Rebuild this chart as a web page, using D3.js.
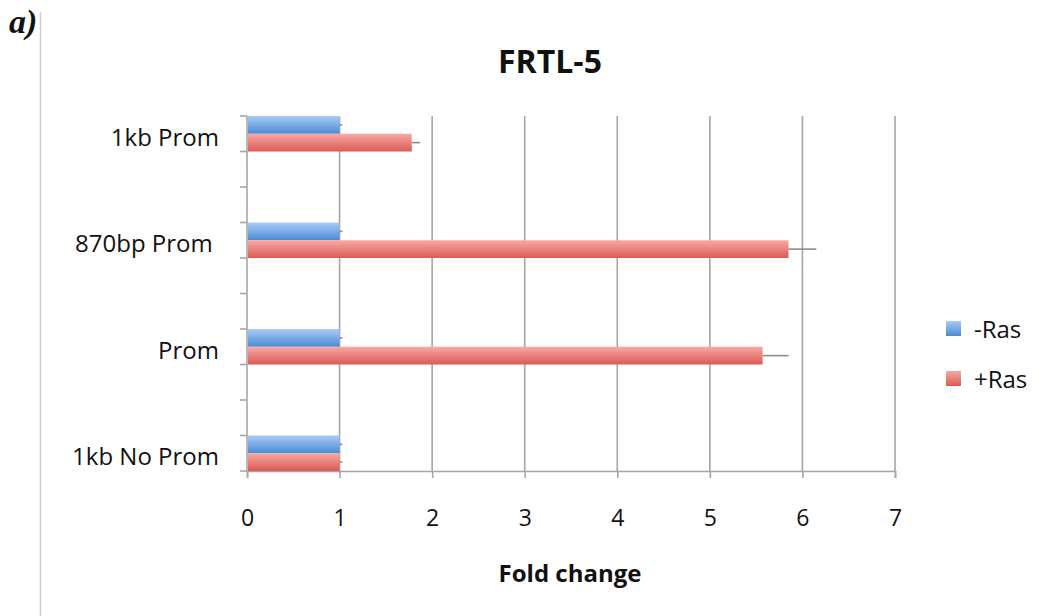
<!DOCTYPE html>
<html>
<head>
<meta charset="utf-8">
<script src="https://cdn.jsdelivr.net/npm/d3@7"></script>
<style>
  html, body { margin: 0; padding: 0; background: #fff; }
  svg { display: block; }
</style>
</head>
<body>
<svg id="chart" width="1045" height="616"></svg>
<script>
// Construct categories, top to bottom; each sits in its own slot with two empty slots between
const categories = ["1kb Prom", "870bp Prom ", "Prom", "1kb No Prom"];
const slotsBetween = 2;
const seriesNames = ["-Ras", "+Ras"];
const minusRas = [1.0, 1.0, 1.0, 1.0];
const minusRasErr = [0.03, 0.03, 0.03, 0.03];
const plusRas = [1.78, 5.85, 5.57, 1.0];
const plusRasErr = [0.09, 0.30, 0.28, 0.03];
const xTicks = [0, 1, 2, 3, 4, 5, 6, 7];

const svg = d3.select("#chart");
const font = "'Open Sans', 'Noto Sans', sans-serif";

const margin = { left: 247, right: 150, top: 116, bottom: 145 };
const W = 1045, H = 616;
const x = d3.scaleLinear().domain([0, 7]).range([margin.left, W - margin.right]);

// slot domain: every category plus spacer slots
const slots = [];
categories.forEach((c, i) => {
  slots.push(c);
  if (i < categories.length - 1) for (let k = 0; k < slotsBetween; k++) slots.push(`__gap${i}_${k}`);
});
const y = d3.scaleBand().domain(slots).range([margin.top, H - margin.bottom]).padding(0);
const sub = d3.scaleBand().domain(seriesNames).range([0, y.bandwidth()]).padding(0);

// gradients
const defs = svg.append("defs");
function grad(id, top, bottom) {
  const g = defs.append("linearGradient").attr("id", id).attr("x1", 0).attr("y1", 0).attr("x2", 0).attr("y2", 1);
  g.append("stop").attr("offset", "0%").attr("stop-color", top);
  g.append("stop").attr("offset", "100%").attr("stop-color", bottom);
}
grad("gBlue", "#a9cbf6", "#4a8bd3");
grad("gRed", "#f8a9a6", "#db5a54");
const fills = { "-Ras": "url(#gBlue)", "+Ras": "url(#gRed)" };

// panel label and separator
svg.append("text").attr("x", 9).attr("y", 33)
  .attr("font-family", "'Liberation Serif', 'DejaVu Serif', serif")
  .attr("font-style", "italic").attr("font-weight", "bold").attr("font-size", 34)
  .attr("fill", "#111").text("a)");
svg.append("line").attr("x1", 40.5).attr("x2", 40.5).attr("y1", 12).attr("y2", H)
  .attr("stroke", "#cfcfcf").attr("stroke-width", 1.5);

// title
svg.append("text").attr("x", 550).attr("y", 73).attr("text-anchor", "middle")
  .attr("font-family", font).attr("font-weight", "bold").attr("font-size", 32)
  .attr("fill", "#111").text("FRTL-5");

const gridColor = "#a6a6a6";
const plotTop = margin.top, plotBottom = H - margin.bottom;

// vertical gridlines
svg.append("g").selectAll("line").data(xTicks.filter(d => d > 0)).join("line")
  .attr("x1", d => x(d)).attr("x2", d => x(d))
  .attr("y1", plotTop).attr("y2", plotBottom)
  .attr("stroke", gridColor).attr("stroke-width", 1.6);

// x axis
const xAxis = svg.append("g").attr("transform", `translate(0,${plotBottom})`)
  .call(d3.axisBottom(x).tickValues(xTicks).tickSize(7).tickPadding(32).tickFormat(d3.format("d")));
xAxis.select(".domain").attr("stroke", gridColor).attr("stroke-width", 1.6);
xAxis.selectAll(".tick line").attr("stroke", gridColor).attr("stroke-width", 1.6);
xAxis.selectAll(".tick text").attr("font-family", font).attr("font-size", 23).attr("fill", "#111");

// y axis with ticks at slot boundaries
const boundaries = d3.range(slots.length + 1).map(i => plotTop + i * y.step());
svg.append("line").attr("x1", x(0)).attr("x2", x(0)).attr("y1", plotTop).attr("y2", plotBottom)
  .attr("stroke", gridColor).attr("stroke-width", 1.6);
svg.append("g").selectAll("line").data(boundaries).join("line")
  .attr("x1", x(0) - 7).attr("x2", x(0))
  .attr("y1", d => d).attr("y2", d => d)
  .attr("stroke", gridColor).attr("stroke-width", 1.6);

// category labels (trailing spaces kept as typed)
svg.append("g").selectAll("text").data(categories).join("text")
  .attr("x", 219).attr("y", d => y(d) + y.bandwidth() / 2 + 12)
  .attr("text-anchor", "end")
  .style("white-space", "pre")
  .attr("font-family", font).attr("font-size", 24).attr("fill", "#111")
  .text(d => d);

// bars
const rows = categories.map((c, i) => ({
  cat: c,
  vals: [
    { s: "-Ras", v: minusRas[i], e: minusRasErr[i] },
    { s: "+Ras", v: plusRas[i], e: plusRasErr[i] }
  ]
}));

const groups = svg.append("g").selectAll("g").data(rows).join("g")
  .attr("transform", d => `translate(0,${y(d.cat)})`);

// error bars (plus direction only)
groups.selectAll("line.err").data(d => d.vals).join("line").attr("class", "err")
  .attr("x1", d => x(d.v)).attr("x2", d => x(d.v + d.e))
  .attr("y1", d => sub(d.s) + sub.bandwidth() / 2)
  .attr("y2", d => sub(d.s) + sub.bandwidth() / 2)
  .attr("stroke", "#8c8c8c").attr("stroke-width", 1.6);

groups.selectAll("rect").data(d => d.vals).join("rect")
  .attr("x", x(0) + 1).attr("y", d => sub(d.s))
  .attr("width", d => x(d.v) - x(0) - 1).attr("height", sub.bandwidth())
  .attr("fill", d => fills[d.s]);

// x axis title
svg.append("text").attr("x", 570).attr("y", 582).attr("text-anchor", "middle")
  .attr("font-family", font).attr("font-weight", "bold").attr("font-size", 24)
  .attr("fill", "#111").text("Fold change");

// legend
const legend = svg.append("g").selectAll("g").data(seriesNames).join("g")
  .attr("transform", (d, i) => `translate(946,${321 + i * 50})`);
legend.append("rect").attr("width", 15).attr("height", 15).attr("fill", d => fills[d]);
legend.append("text").attr("x", 28).attr("y", 16 + 1)
  .attr("font-family", font).attr("font-size", 24).attr("fill", "#111").text(d => d);
</script>
</body>
</html>
